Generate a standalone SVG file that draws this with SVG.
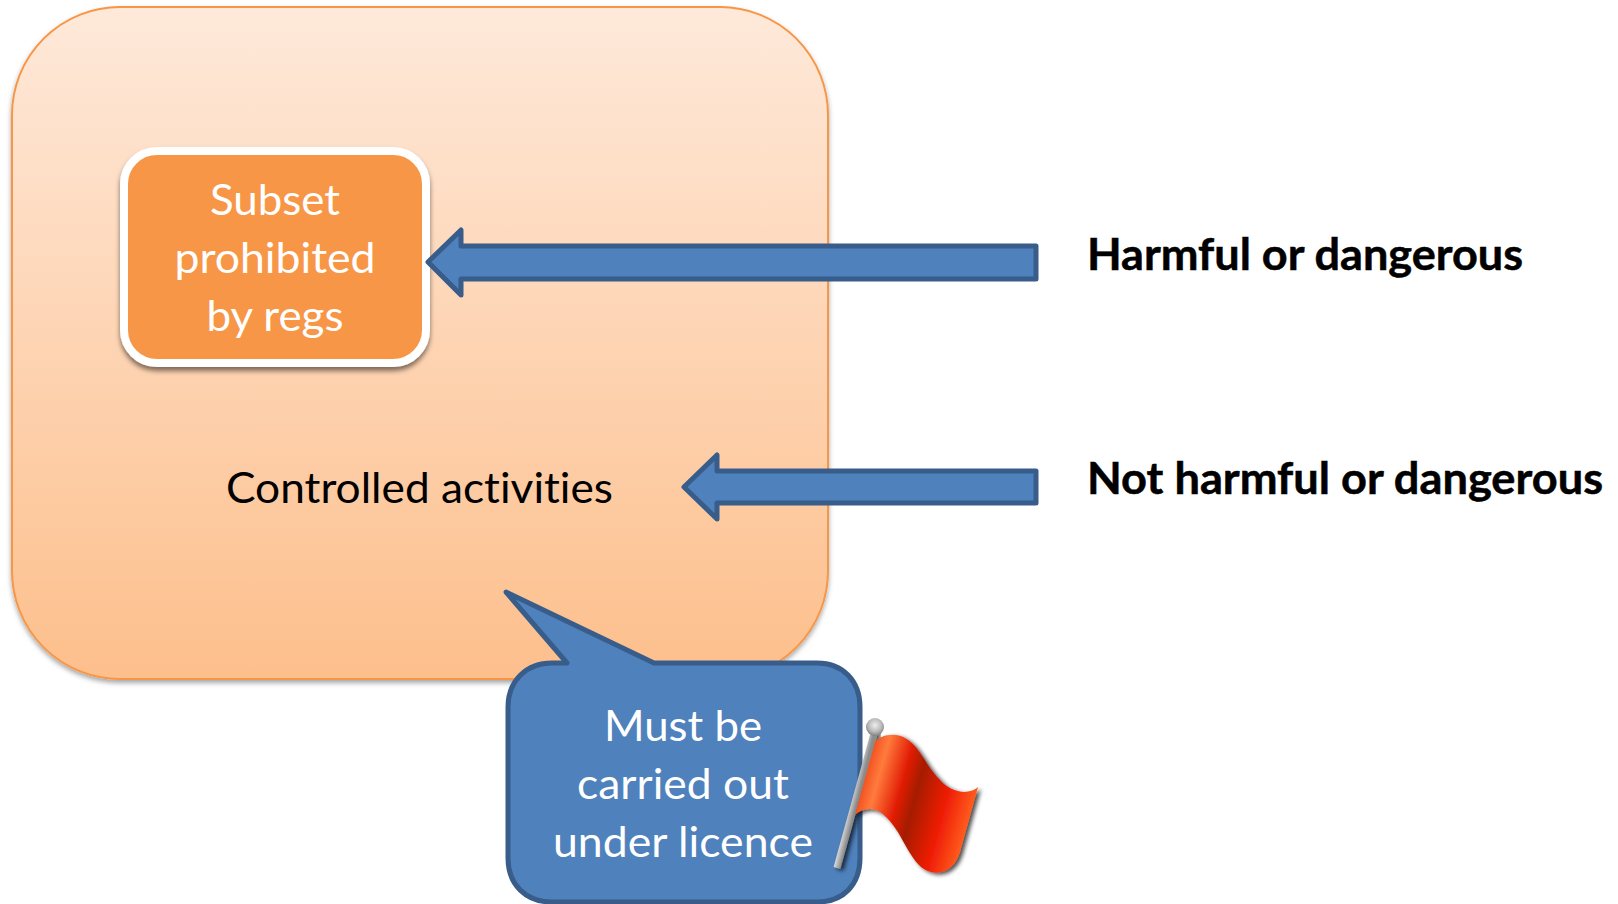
<svg xmlns="http://www.w3.org/2000/svg" width="1618" height="904" viewBox="0 0 1618 904">
<style>
.t{font-family:"Lato","Open Sans","Liberation Sans",sans-serif;font-size:43px;text-anchor:middle;font-variant-ligatures:none}
.w{fill:#fff}
.b{fill:#000;font-weight:700;text-anchor:start;stroke:#000;stroke-width:.5}
.arrow{fill:#4f81bd;stroke:#385d8a;stroke-width:5;stroke-linejoin:round}
</style>
<defs>
<linearGradient id="bg" x1="0" y1="0" x2="0" y2="1"><stop offset="0" stop-color="#fee9da"/><stop offset="1" stop-color="#fdbf8c"/></linearGradient>
<linearGradient id="fl" gradientUnits="userSpaceOnUse" x1="855" y1="800" x2="975" y2="833">
<stop offset="0" stop-color="#f0481a"/><stop offset=".135" stop-color="#ff7b3c"/><stop offset=".33" stop-color="#e21c05"/><stop offset=".46" stop-color="#a51a02"/><stop offset=".7" stop-color="#ee1a05"/><stop offset=".92" stop-color="#ff5a1c"/><stop offset="1" stop-color="#f0501a"/></linearGradient>
<linearGradient id="pole" gradientUnits="userSpaceOnUse" x1="850" y1="795" x2="858" y2="797"><stop offset="0" stop-color="#f2f2f2"/><stop offset=".5" stop-color="#bdbdbd"/><stop offset="1" stop-color="#8c8c8c"/></linearGradient>
<radialGradient id="ball" cx=".5" cy=".4" r=".6"><stop offset="0" stop-color="#eee"/><stop offset=".6" stop-color="#bbb"/><stop offset="1" stop-color="#808080"/></radialGradient>
<filter id="sh" x="-5%" y="-5%" width="110%" height="110%"><feDropShadow dx="0" dy="3" stdDeviation="2.5" flood-color="#000" flood-opacity=".35"/></filter>
<filter id="sh2" x="-5%" y="-5%" width="110%" height="112%"><feDropShadow dx="0" dy="4" stdDeviation="2.500" flood-color="#000" flood-opacity=".5"/></filter>
<filter id="fs" x="-10%" y="-10%" width="125%" height="125%"><feDropShadow dx="3" dy="2" stdDeviation="2" flood-color="#000" flood-opacity=".7"/></filter>
</defs>
<g id="controlled">
<rect x="12" y="7" width="816" height="672" rx="108" fill="url(#bg)" stroke="#f79646" stroke-width="2" filter="url(#sh)"/>
<text class="t" x="419.500" y="503" textLength="387" lengthAdjust="spacingAndGlyphs">Controlled activities</text>
</g>
<g id="subset">
<rect x="124" y="151" width="302" height="212" rx="33" fill="#f79646" stroke="#fff" stroke-width="8" filter="url(#sh2)"/>
<text class="t w" x="275" y="215" textLength="130" lengthAdjust="spacingAndGlyphs">Subset</text>
<text class="t w" x="275" y="273" textLength="201" lengthAdjust="spacingAndGlyphs">prohibited</text>
<text class="t w" x="275" y="331" textLength="137" lengthAdjust="spacingAndGlyphs">by regs</text>
</g>
<g id="connectors">
<path class="arrow" d="M428 262L461 230V246H1036V279H461V295Z"/>
<path class="arrow" d="M684 487L717 455V471H1036V503H717V519Z"/>
</g>
<g id="harmful"><text class="t b" x="1087" y="270" textLength="436" lengthAdjust="spacingAndGlyphs">Harmful or dangerous</text></g>
<g id="not-harmful"><text class="t b" x="1087" y="494" textLength="516" lengthAdjust="spacingAndGlyphs">Not harmful or dangerous</text></g>
<g id="licence">
<path d="M506 592L567 663H552C526 663 508 681 508 707V858C508 885 526 902 552 902H817C843 902 860 885 860 858V707C860 681 843 663 817 663H654Z" fill="#4f81bd" stroke="#385d8a" stroke-width="5" stroke-linejoin="round"/>
<text class="t w" x="683" y="741" textLength="158" lengthAdjust="spacingAndGlyphs">Must be</text>
<text class="t w" x="683" y="799" textLength="212" lengthAdjust="spacingAndGlyphs">carried out</text>
<text class="t w" x="683" y="857" textLength="260" lengthAdjust="spacingAndGlyphs">under licence</text>
</g>
<g id="flag">
<path d="M875 730L837 868" stroke="url(#pole)" stroke-width="7" fill="none" filter="url(#fs)"/>
<path d="M875 742C880 735 895 732 905 738C920 746 925 765 940 780C950 792 968 796 978 787L960 852C954 873 935 878 921 867C905 852 900 826 880 812C872 807 862 808 855 815Z" fill="url(#fl)" filter="url(#fs)"/>
<circle cx="875" cy="727" r="9" fill="url(#ball)"/>
</g>
</svg>
